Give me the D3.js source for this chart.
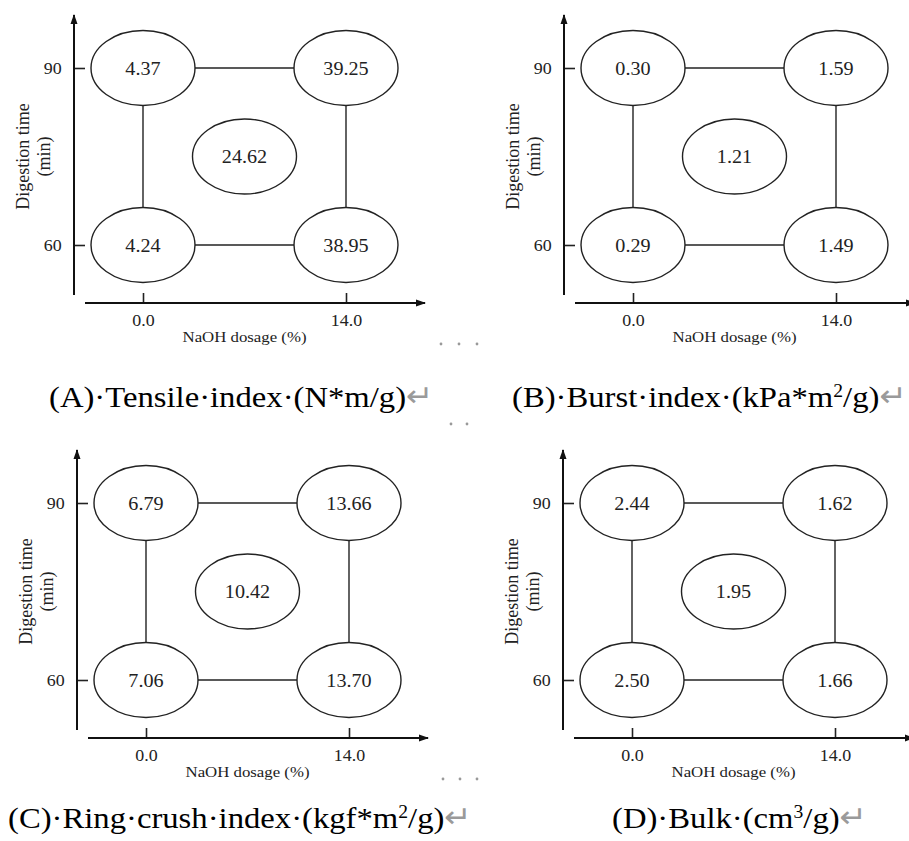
<!DOCTYPE html>
<html>
<head>
<meta charset="utf-8">
<script src="https://cdn.jsdelivr.net/npm/d3@7"></script>
<style>
  body { margin: 0; background: #fff; }
  text { font-family: "Liberation Serif", "Times New Roman", serif; fill: #222; }
</style>
</head>
<body>
<div class="figure"></div>
<script>
var svgWidth = 909;
var svgHeight = 841;

// data
var dosageTicks = [0, 14];
var timeTicks = [60, 90];
var dosageLabels = ['0.0', '14.0'];
var timeLabels = ['60', '90'];

// point order: 60/0, 60/14, 90/0, 90/14, centre point
var pointDosage = [0, 14, 0, 14, 7];
var pointTime = [60, 60, 90, 90, 75];

var tensileIndex = [4.24, 38.95, 4.37, 39.25, 24.62];
var burstIndex = [0.29, 1.49, 0.30, 1.59, 1.21];
var ringCrushIndex = [7.06, 13.70, 6.79, 13.66, 10.42];
var bulk = [2.50, 1.66, 2.44, 1.62, 1.95];

var captionMain = ['(A)\u00b7Tensile\u00b7index\u00b7(N*m/g)', '(B)\u00b7Burst\u00b7index\u00b7(kPa*m',
  '(C)\u00b7Ring\u00b7crush\u00b7index\u00b7(kgf*m', '(D)\u00b7Bulk\u00b7(cm'];
var captionSup = ['', '2', '2', '3'];
var captionTail = ['', '/g)', '/g)', '/g)'];

var xLabel = 'NaOH dosage (%)';
var yLabel = ['Digestion time', '(min)'];

// layout
var panelValues = [tensileIndex, burstIndex, ringCrushIndex, bulk];
var panelX = [143, 633, 146, 632];
var panelY = [68, 68, 503, 503];
var captionX = [49, 512, 8, 612];
var captionY = [407, 407, 828, 828];
var plotW = 203;
var plotH = 177;
var SX = 1.12;   // the source picture is a bit stretched sideways
var capSX = 1.09;

var edges = [[0, 1], [2, 3], [0, 2], [1, 3]];
var fmt = d3.format('.2f');

var svg = d3.select('.figure')
  .append('svg')
  .attr('width', svgWidth)
  .attr('height', svgHeight);

var defs = svg.append('defs');
defs.append('marker')
  .attr('id', 'arrow')
  .attr('viewBox', '0 -4 10 8')
  .attr('markerUnits', 'userSpaceOnUse')
  .attr('markerWidth', 10)
  .attr('markerHeight', 8)
  .attr('refX', 9)
  .attr('refY', 0)
  .attr('orient', 'auto')
  .append('path')
  .attr('d', 'M0,-3.5L10,0L0,3.5Z')
  .attr('fill', '#111');

panelValues.forEach(function(values, p) {
  var g = svg.append('g')
    .attr('transform', `translate(${panelX[p]}, ${panelY[p]})`);

  var x = d3.scaleLinear().domain([0, 14]).range([0, plotW]);
  var y = d3.scaleLinear().domain([60, 90]).range([plotH, 0]);

  // axes
  var bottomAxis = d3.axisBottom(x)
    .tickValues(dosageTicks)
    .tickFormat((d, i) => dosageLabels[i])
    .tickSizeInner(-10)
    .tickSizeOuter(0)
    .tickPadding(12);
  var leftAxis = d3.axisLeft(y)
    .tickValues(timeTicks)
    .tickFormat((d, i) => timeLabels[i])
    .tickSizeInner(-11)
    .tickSizeOuter(0)
    .tickPadding(11);

  var xg = g.append('g')
    .attr('transform', `translate(0, ${plotH + 58})`)
    .call(bottomAxis);
  var yg = g.append('g')
    .attr('transform', 'translate(-69, 0)')
    .call(leftAxis);

  [xg, yg].forEach(function(ax) {
    ax.select('.domain').remove();
    ax.selectAll('.tick line').attr('stroke', '#222').attr('stroke-width', 1.6);
    ax.selectAll('.tick text')
      .attr('fill', '#222')
      .style('font-family', '"Liberation Serif", serif')
      .style('font-size', '16px')
      .attr('transform', `scale(${SX},1)`);
  });

  // axis lines with arrows
  xg.append('line')
    .attr('x1', -58).attr('x2', plotW + 79)
    .attr('stroke', '#111').attr('stroke-width', 2)
    .attr('marker-end', 'url(#arrow)');
  yg.append('line')
    .attr('y1', plotH + 50).attr('y2', -53)
    .attr('stroke', '#111').attr('stroke-width', 2)
    .attr('marker-end', 'url(#arrow)');

  // axis titles
  g.append('text')
    .attr('transform', `translate(${plotW / 2}, ${plotH + 97}) scale(${SX},1)`)
    .attr('text-anchor', 'middle')
    .style('font-size', '15px')
    .text(xLabel);

  yLabel.forEach(function(line, i) {
    g.append('text')
      .attr('transform', `translate(${-114 + i * 21}, ${plotH / 2}) rotate(-90)`)
      .attr('text-anchor', 'middle')
      .style('font-size', '18px')
      .text(line);
  });

  // connecting lines
  g.selectAll('line.link')
    .data(edges)
    .enter()
    .append('line')
    .attr('class', 'link')
    .attr('x1', d => x(pointDosage[d[0]]))
    .attr('y1', d => y(pointTime[d[0]]))
    .attr('x2', d => x(pointDosage[d[1]]))
    .attr('y2', d => y(pointTime[d[1]]))
    .attr('stroke', '#222')
    .attr('stroke-width', 1.4);

  // ellipses with values
  var nodes = g.selectAll('g.node')
    .data(values)
    .enter()
    .append('g')
    .attr('class', 'node')
    .attr('transform', (d, i) => `translate(${x(pointDosage[i])}, ${y(pointTime[i])})`);

  nodes.append('ellipse')
    .attr('rx', 52)
    .attr('ry', 37.5)
    .attr('fill', '#fff')
    .attr('stroke', '#222')
    .attr('stroke-width', 1.4);

  nodes.append('text')
    .attr('transform', `translate(0, 6.5) scale(${SX},1)`)
    .attr('text-anchor', 'middle')
    .style('font-size', '18px')
    .text(d => fmt(d));

  // caption
  var cap = svg.append('text')
    .attr('transform', `translate(${captionX[p]}, ${captionY[p]}) scale(${capSX},1)`)
    .style('font-size', '30px')
    .attr('fill', '#000');
  cap.append('tspan').attr('fill', '#000').text(captionMain[p]);
  if (captionSup[p]) {
    cap.append('tspan').attr('fill', '#000').attr('dy', -10).style('font-size', '18px').text(captionSup[p]);
    cap.append('tspan').attr('fill', '#000').attr('dy', 10).text(captionTail[p]);
  }
  cap.append('tspan')
    .attr('fill', '#9a9a9a')
    .attr('dy', -1)
    .style('font-family', '"DejaVu Sans", sans-serif')
    .style('font-size', '30px')
    .text('\u21b5');
});

// word-processor formatting marks between the panels
var markX = [441, 459, 477, 451, 467, 443, 460, 477];
var markY = [344, 344, 344, 424, 424, 779, 779, 779];
svg.selectAll('circle.mark')
  .data(markX)
  .enter()
  .append('circle')
  .attr('class', 'mark')
  .attr('cx', d => d)
  .attr('cy', (d, i) => markY[i])
  .attr('r', 1.4)
  .attr('fill', '#999');
</script>
</body>
</html>
